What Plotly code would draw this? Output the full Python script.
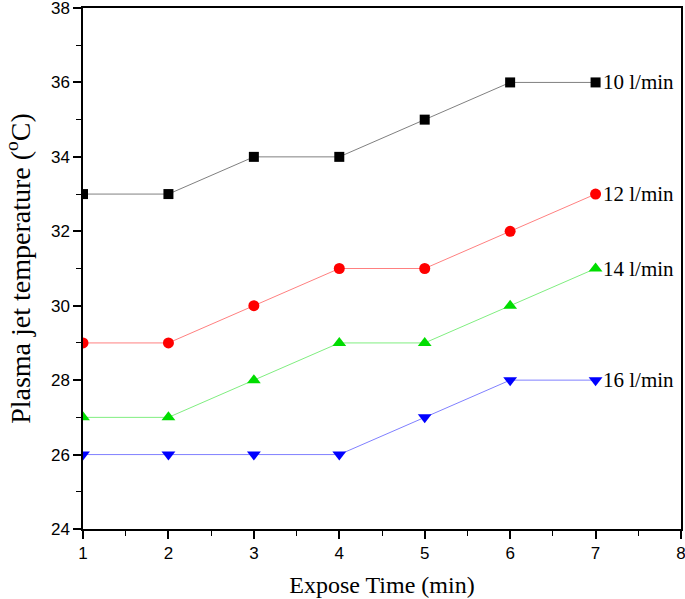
import plotly.graph_objects as go

time_min = [1, 2, 3, 4, 5, 6, 7]
temp_10 = [33, 33, 34, 34, 35, 36, 36]
temp_12 = [29, 29, 30, 31, 31, 32, 33]
temp_14 = [27, 27, 28, 29, 29, 30, 31]
temp_16 = [26, 26, 26, 26, 27, 28, 28]
labels = ["10 l/min", "12 l/min", "14 l/min", "16 l/min"]

series = [
    (temp_10, "#000000", "#808080", "square", 10),
    (temp_12, "#ff0000", "#ff8080", "circle", 11),
    (temp_14, "#00dd00", "#80ee80", "triangle-up", 12),
    (temp_16, "#0000ff", "#8080ff", "triangle-down", 12),
]

fig = go.Figure()
for (vals, mc, lc, sym, sz), lab in zip(series, labels):
    fig.add_trace(go.Scatter(
        x=time_min, y=vals, mode="lines+markers", name=lab,
        line=dict(color=lc, width=1),
        marker=dict(symbol=sym, size=sz, color=mc),
        showlegend=False,
    ))
    fig.add_annotation(x=time_min[-1], y=vals[-1], text=lab, xanchor="left",
                       yanchor="middle", xshift=5, showarrow=False,
                       font=dict(family="Liberation Serif", size=21, color="black"))

axis_common = dict(
    showline=True, linecolor="black", linewidth=1.5, mirror=True,
    ticks="outside", ticklen=8, tickwidth=1.5, tickcolor="black",
    showgrid=False, zeroline=False, automargin=False,
    ticklabeloverflow="allow",
    tickfont=dict(family="Liberation Sans", size=17, color="black"),
)

fig.update_xaxes(range=[1, 8], dtick=1, tick0=1,
                 minor=dict(ticks="outside", ticklen=5, tickwidth=1.2,
                            tickcolor="black", dtick=0.5, tick0=1),
                 title=dict(text="Expose Time (min)",
                            font=dict(family="Liberation Serif", size=24, color="black"),
                            standoff=14),
                 **axis_common)
fig.update_yaxes(range=[24, 38], dtick=2, tick0=24,
                 minor=dict(ticks="outside", ticklen=5, tickwidth=1.2,
                            tickcolor="black", dtick=1, tick0=24),
                 title=dict(text="Plasma jet temperature (<sup>o</sup>C)",
                            font=dict(family="Liberation Serif", size=28, color="black"),
                            standoff=12),
                 **axis_common)

fig.update_layout(
    width=685, height=599,
    margin=dict(l=83, r=4, t=8, b=70, autoexpand=False),
    plot_bgcolor="white", paper_bgcolor="white",
)

fig.write_html("out.html", config={"displayModeBar": False},
               post_script="document.body.style.margin='0px';")
